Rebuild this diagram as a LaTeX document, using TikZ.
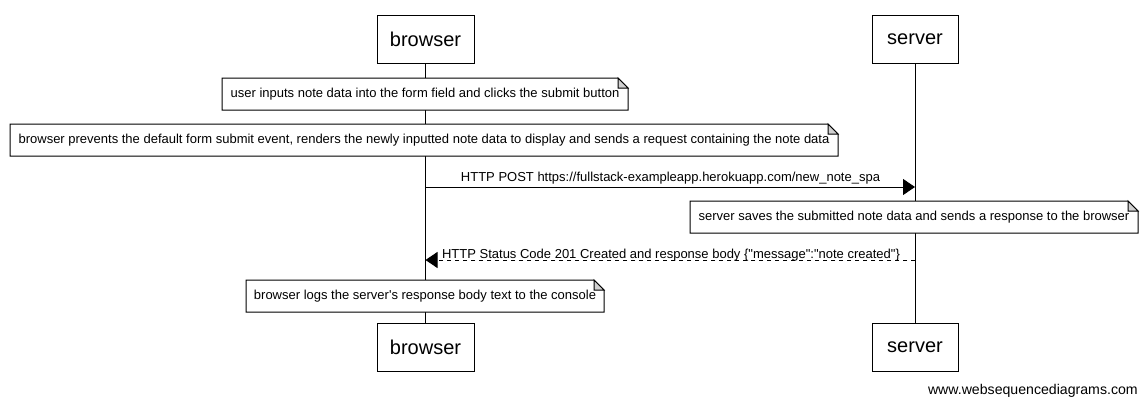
\documentclass[tikz,border=0pt]{standalone}
\usepackage{fontspec}
\setmainfont{Liberation Sans}
\newfontfamily\rawfont{Liberation Sans}
\usetikzlibrary{arrows.meta}
\def\pxu{0.75pt}
\tikzset{
  actor/.style={draw=black, line width=0.75pt, fill=white, minimum width=97*\pxu, minimum height=48*\pxu, inner sep=0pt, font=\rawfont\fontsize{15pt}{18pt}\selectfont},
  actor2/.style={actor, minimum width=86*\pxu},
  lifeline/.style={draw=black, line width=0.75pt},
  notetext/.style={inner sep=0pt, font=\rawfont\fontsize{9.75pt}{12pt}\selectfont},
  noteframe/.style={draw=black, line width=0.75pt, fill=white},
  fold/.style={draw=black, line width=0.75pt, fill=black!18},
  msg/.style={draw=black, line width=0.75pt, -{Triangle[length=12*\pxu, width=16*\pxu]}},
  reply/.style={msg, dash pattern=on 4*\pxu off 4*\pxu},
  msglabel/.style={inner sep=0pt, font=\rawfont\fontsize{9.75pt}{12pt}\selectfont},
  footer/.style={inner sep=0pt, font=\rawfont\fontsize{10.6pt}{12pt}\selectfont},
}
\newcommand{\notebox}[6]{%
  \draw[noteframe] (#2,#3) -- ({#4-10},#3) -- (#4,{#3+10}) -- (#4,#5) -- (#2,#5) -- cycle;
  \draw[fold] ({#4-10},#3) -- ({#4-10},{#3+10}) -- (#4,{#3+10}) -- cycle;
  \node[notetext] (#1) at ({(#2+#4)/2},{(#3+#5)/2+0.5}) {#6};
}
\begin{document}
\begin{tikzpicture}[x=\pxu, y=-\pxu]
\useasboundingbox (0,0) rectangle (1148,407);
% actors
\node[actor] (bt) at (425.5,39) {browser};
\node[actor2] (st) at (915,39) {server};
\node[actor] (bb) at (425.5,347) {browser};
\node[actor2] (sb) at (915,347) {server};
% lifelines
\draw[lifeline] (bt.south) -- (bb.north);
\draw[lifeline] (st.south) -- (sb.north);
% notes
\notebox{n1}{222}{78}{628}{110}{user inputs note data into the form field and clicks the submit button}
\notebox{n2}{10}{124}{838}{156}{browser prevents the default form submit event, renders the newly inputted note data to display and sends a request containing the note data}
% message 1
\coordinate (m1b) at (425.5,187);
\coordinate (m1s) at (915,187);
\draw[msg] (m1b) -- (m1s);
\node[msglabel] (l1) at (670.5,178) {HTTP POST https://fullstack-exampleapp.herokuapp.com/new\_note\_spa};
\notebox{n3}{690}{201}{1138}{233}{server saves the submitted note data and sends a response to the browser}
% message 2
\coordinate (m2s) at (915,260);
\coordinate (m2b) at (425.5,260);
\draw[reply] (m2s) -- (m2b);
\node[msglabel] (l2) at (671,255.5) {HTTP Status Code 201 Created and response body \{"message":"note created"\}};
\notebox{n4}{246}{280}{604}{312}{browser logs the server's response body text to the console}
% footer
\node[footer, anchor=east] (ft) at (1138,391) {www.websequencediagrams.com};
\end{tikzpicture}
\end{document}
